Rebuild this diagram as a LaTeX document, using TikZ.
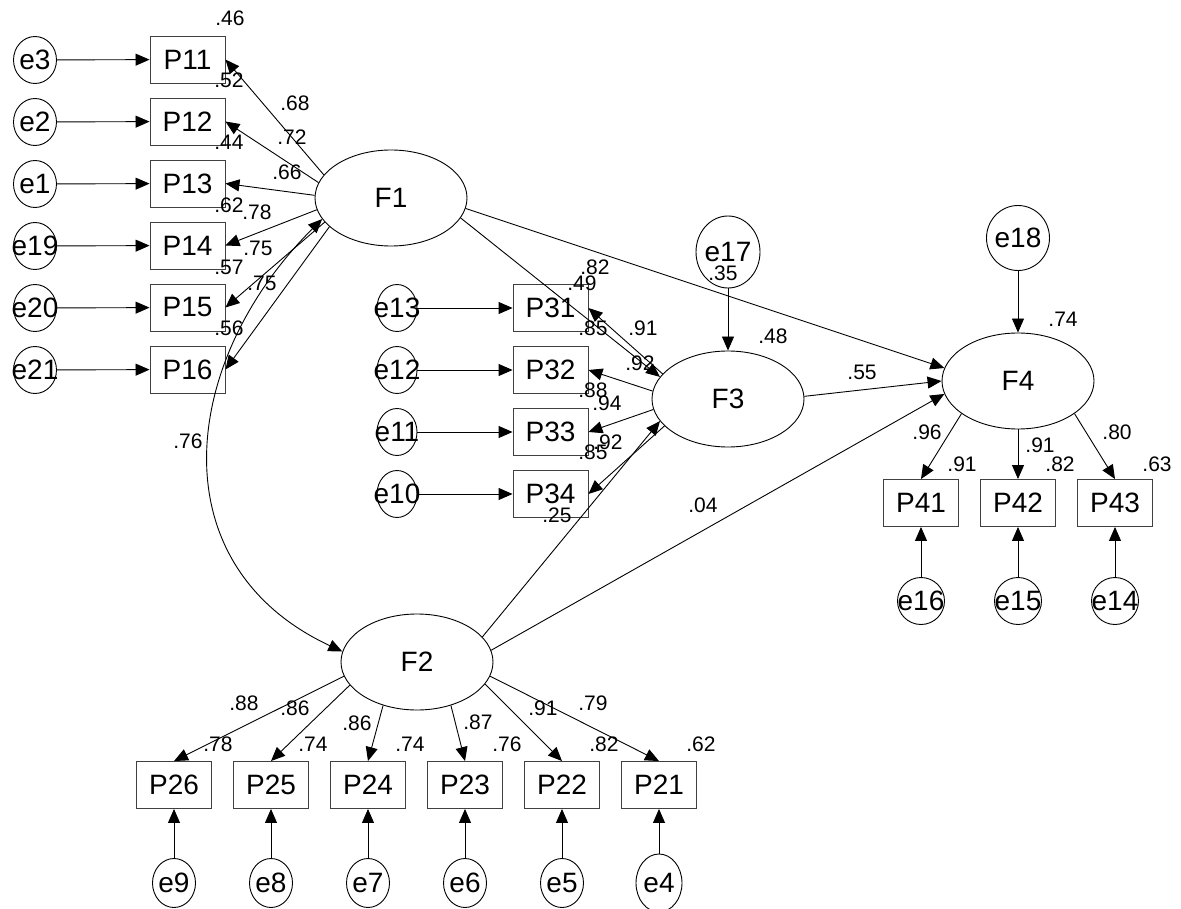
\documentclass[tikz,border=0pt]{standalone}
\usepackage{fontspec}
\setmainfont{Liberation Sans}
\usetikzlibrary{arrows.meta,shapes.geometric,positioning}
\newcommand{\bigtxt}{\fontsize{28}{30}\selectfont}
\newcommand{\smalltxt}{\fontsize{21}{23}\selectfont}
\newcommand{\etxt}[1]{\makebox[0pt]{#1}}

\begin{document}
\begin{tikzpicture}[x=1pt,y=-1pt,node distance=62pt,on grid,
    >={Triangle[length=14pt,width=12pt]},
    item/.style={rectangle,draw=black!75,line width=0.9pt,minimum width=75pt,minimum height=47pt,inner sep=0pt,font=\bigtxt},
    latent/.style={ellipse,draw,line width=0.9pt,minimum width=152pt,minimum height=96pt,inner sep=0pt,font=\bigtxt},
    err/.style={ellipse,draw,line width=0.9pt,minimum width=43pt,minimum height=47pt,inner sep=0pt,font=\bigtxt},
    num/.style={inner sep=0pt,font=\smalltxt},
    link/.style={->,line width=0.9pt}]
\useasboundingbox (0,0) rectangle (1181,909);
\clip (0,0) rectangle (1181,909);
% latent factors
\node[latent] (F1) at (391,198) {F1};
\node[latent] (F3) at (728,399) {F3};
\node[latent] (F4) at (1018,381) {F4};
\node[latent] (F2) at (417,662) {F2};
% F1 items
\node[item] (P11) at (187.5,59.5) {P11};
\node[item] (P12) [below=of P11] {P12};
\node[item] (P13) [below=of P12] {P13};
\node[item] (P14) [below=of P13] {P14};
\node[item] (P15) [below=of P14] {P15};
\node[item] (P16) [below=of P15] {P16};
\node[err] (e3) at (35,60) {\etxt{e3}};
\node[err] (e2) [below=of e3] {\etxt{e2}};
\node[err] (e1) [below=of e2] {\etxt{e1}};
\node[err] (e19) [below=of e1] {\etxt{e19}};
\node[err] (e20) [below=of e19] {\etxt{e20}};
\node[err] (e21) [below=of e20] {\etxt{e21}};
% F3 items
\node[item] (P31) at (550.5,308) {P31};
\node[item] (P32) [below=of P31] {P32};
\node[item] (P33) [below=of P32] {P33};
\node[item] (P34) [below=of P33] {P34};
\node[err,minimum width=40pt] (e13) at (397,308) {\etxt{e13}};
\node[err,minimum width=40pt] (e12) [below=of e13] {\etxt{e12}};
\node[err,minimum width=40pt] (e11) [below=of e12] {\etxt{e11}};
\node[err,minimum width=40pt] (e10) [below=of e11] {\etxt{e10}};
% F2 items
\node[item] (P26) at (174,785) {P26};
\node[item] (P25) [right=97pt of P26] {P25};
\node[item] (P24) [right=97pt of P25] {P24};
\node[item] (P23) [right=97pt of P24] {P23};
\node[item] (P22) [right=97pt of P23] {P22};
\node[item] (P21) [right=97pt of P22] {P21};
\node[err,minimum height=49pt] (e9) at (174,883) {\etxt{e9}};
\node[err,minimum height=49pt] (e8) [right=97pt of e9] {\etxt{e8}};
\node[err,minimum height=49pt] (e7) [right=97pt of e8] {\etxt{e7}};
\node[err,minimum height=49pt] (e6) [right=97pt of e7] {\etxt{e6}};
\node[err,minimum height=49pt] (e5) [right=97pt of e6] {\etxt{e5}};
\node[err,minimum width=46pt,minimum height=58pt] (e4) [right=97pt of e5] {\etxt{e4}};
% F4 items
\node[item] (P41) at (921,503) {P41};
\node[item] (P42) [right=97pt of P41] {P42};
\node[item] (P43) [right=97pt of P42] {P43};
\node[err,minimum width=47pt] (e16) at (921,601) {\etxt{e16}};
\node[err,minimum width=47pt] (e15) [right=97pt of e16] {\etxt{e15}};
\node[err,minimum width=47pt] (e14) [right=97pt of e15] {\etxt{e14}};
% disturbances
\node[err,minimum width=64pt,minimum height=72pt] (e17) at (728,252) {\etxt{e17}};
\node[err,minimum width=63pt,minimum height=65pt] (e18) at (1018,238) {\etxt{e18}};
% error paths
\path[link]
    (e3) edge (P11) (e2) edge (P12) (e1) edge (P13)
    (e19) edge (P14) (e20) edge (P15) (e21) edge (P16)
    (e13) edge (P31) (e12) edge (P32) (e11) edge (P33) (e10) edge (P34)
    (e9) edge (P26) (e8) edge (P25) (e7) edge (P24)
    (e6) edge (P23) (e5) edge (P22) (e4) edge (P21)
    (e16) edge (P41) (e15) edge (P42) (e14) edge (P43)
    (e17) edge (F3) (e18) edge (F4);
% loadings
\path[link]
    (F1.161) edge (P11.east) (F1.168) edge (P12.east) (F1.178) edge (P13.east)
    (F1.189) edge (P14.east) (F1.200) edge (P15.east) (F1.205) edge (P16.east)
    (F3.159) edge (P31.east) (F3.174) edge (P32.east)
    (F3.188) edge (P33.east) (F3.203) edge (P34.east)
    (F2.191) edge (P26.north) (F2.199) edge (P25.north) (F2.232) edge (P24.north)
    (F2.308) edge (P23.north) (F2.342) edge (P22.north) (F2.349) edge (P21.north)
    (F4.210) edge (P41.north) (F4.south) edge (P42.north) (F4.330) edge (P43.north);
% structural paths
\path[link]
    (F1.344) edge (F3.162) (F2.21) edge (F3.198)
    (F1.352) edge (F4.170) (F3.2) edge (F4.180) (F2.9) edge (F4.190);
\path[link,<->] (F1.197) edge[out=225,in=155,looseness=1.2] (F2.172);
% estimates F1
\node[num] (r11) at (230,18) {.46};
\node[num] (r12) at (229,80) {.52};
\node[num] (r13) at (229,142) {.44};
\node[num] (r14) at (229,205) {.62};
\node[num] (r15) at (229,267) {.57};
\node[num] (r16) at (229,328) {.56};
\node[num] (w11) at (295,103) {.68};
\node[num] (w12) at (292,137) {.72};
\node[num] (w13) at (287,172) {.66};
\node[num] (w14) at (257,212) {.78};
\node[num] (w15) at (258,248) {.75};
\node[num] (w16) at (262,283) {.75};
\node[num] (c12) at (188,441) {.76};
% estimates F3
\node[num] (r31) at (595,267) {.82};
\node[num] (r32) at (593,328) {.85};
\node[num] (r33) at (593,390) {.88};
\node[num] (r34) at (593,452) {.85};
\node[num] (w31) at (643,328) {.91};
\node[num] (w32) at (640,363) {.92};
\node[num] (w33) at (607,403) {.94};
\node[num] (w34) at (608,442) {.92};
\node[num] (b13) at (582,283) {.49};
\node[num] (b23) at (557,515) {.25};
\node[num] (b14) at (723,273) {.35};
\node[num] (b34) at (862,372) {.55};
\node[num] (b24) at (703,505) {.04};
\node[num] (rF3) at (773,336) {.48};
% estimates F4
\node[num] (rF4) at (1063,319) {.74};
\node[num] (w41) at (927,432) {.96};
\node[num] (w42) at (1040,445) {.91};
\node[num] (w43) at (1117,432) {.80};
\node[num] (r41) at (962,464) {.91};
\node[num] (r42) at (1060,464) {.82};
\node[num] (r43) at (1157,464) {.63};
% estimates F2
\node[num] (w26) at (244,703) {.88};
\node[num] (w25) at (295,708) {.86};
\node[num] (w24) at (357,723) {.86};
\node[num] (w23) at (478,722) {.87};
\node[num] (w22) at (543,708) {.91};
\node[num] (w21) at (593,703) {.79};
\node[num] (r26) at (218,744) {.78};
\node[num] (r25) at (313,744) {.74};
\node[num] (r24) at (410,744) {.74};
\node[num] (r23) at (507,744) {.76};
\node[num] (r22) at (604,744) {.82};
\node[num] (r21) at (701,744) {.62};
\end{tikzpicture}
\end{document}
